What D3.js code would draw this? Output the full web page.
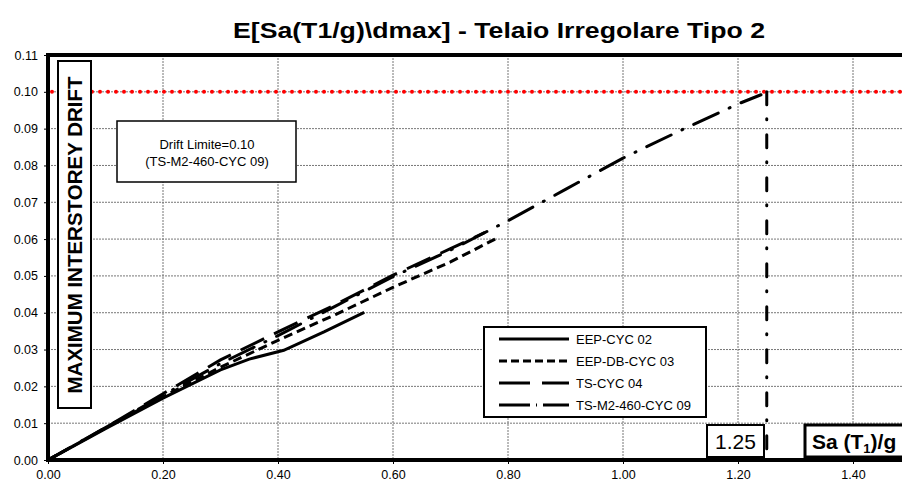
<!DOCTYPE html>
<html><head><meta charset="utf-8">
<script src="https://cdn.jsdelivr.net/npm/d3@7"></script>
<style>
html,body{margin:0;padding:0;background:#fff;}
text{font-family:"Liberation Sans",Arial,sans-serif;}
</style></head>
<body>
<svg id="chart" width="902" height="484"></svg>
<script>
// ---- data ----
const xTicks = [0,0.2,0.4,0.6,0.8,1.0,1.2,1.4];
const yTicks = [0,0.01,0.02,0.03,0.04,0.05,0.06,0.07,0.08,0.09,0.10,0.11];
const seriesNames = ["EEP-CYC 02","EEP-DB-CYC 03","TS-CYC 04","TS-M2-460-CYC 09"];
const saEEP02 = [0,0.1,0.2,0.3,0.35,0.41,0.48,0.55];
const drEEP02 = [0,0.0085,0.0168,0.0245,0.0274,0.0298,0.0348,0.0401];
const saEEPDB03 = [0,0.1,0.2,0.3,0.4,0.5,0.6,0.7,0.78];
const drEEPDB03 = [0,0.0087,0.0172,0.0252,0.0325,0.0395,0.0469,0.0538,0.0602];
const saTS04 = [0,0.1,0.2,0.3,0.4,0.5,0.6,0.7,0.76];
const drTS04 = [0,0.0088,0.0180,0.0272,0.0348,0.0422,0.0502,0.0574,0.0618];
const saTSM2 = [0,0.1,0.2,0.3,0.4,0.5,0.6,0.7,0.8,0.9,1.0,1.1,1.2,1.24];
const drTSM2 = [0,0.0088,0.0176,0.0262,0.0338,0.0418,0.0498,0.0570,0.0650,0.0735,0.0820,0.0895,0.0967,0.0992];
const driftLimit = 0.10;
const saLimit = 1.25;
const titleText = "E[Sa(T1/g)\\dmax] - Telaio Irregolare Tipo 2";

// ---- layout ----
const svg = d3.select("#chart");
const L = 48, R = 910.5, T = 55, B = 460;
const x = d3.scaleLinear().domain([0,1.5]).range([L,R]);
const y = d3.scaleLinear().domain([0,0.11]).range([B,T]);
const styles = [
  {dash:null},
  {dash:"9,5"},
  {dash:"26,11"},
  {dash:"27,12,1,12"}
];
const data = [[saEEP02,drEEP02],[saEEPDB03,drEEPDB03],[saTS04,drTS04],[saTSM2,drTSM2]]
  .map(([a,b],i)=>({name:seriesNames[i], pts:a.map((v,j)=>[v,b[j]]), style:styles[i]}));

svg.append("defs").append("clipPath").attr("id","clip")
  .append("rect").attr("x",L).attr("y",T).attr("width",R-L).attr("height",B-T);

// title
svg.append("text").attr("x",233).attr("y",38)
  .attr("font-size",22).attr("font-weight","bold")
  .attr("textLength",532).attr("lengthAdjust","spacingAndGlyphs").text(titleText);

// grid
const g = svg.append("g");
g.selectAll(".vg").data(xTicks.filter(d=>d>0)).join("line")
  .attr("x1",d=>x(d)).attr("x2",d=>x(d)).attr("y1",T).attr("y2",B)
  .attr("stroke","#777").attr("stroke-width",1).attr("stroke-dasharray","2,1");
g.selectAll(".hg").data(yTicks.filter(d=>d>0 && d<0.11)).join("line")
  .attr("x1",L).attr("x2",R).attr("y1",d=>y(d)).attr("y2",d=>y(d))
  .attr("stroke","#777").attr("stroke-width",1).attr("stroke-dasharray","2,1");

// axes
const xAxis = d3.axisBottom(x).tickValues(xTicks).tickFormat(d3.format(".2f")).tickSize(4).tickPadding(6);
const yAxis = d3.axisLeft(y).tickValues(yTicks).tickFormat(d3.format(".2f")).tickSize(4).tickPadding(6);
const gx = svg.append("g").attr("transform",`translate(0,${B})`).call(xAxis);
const gy = svg.append("g").attr("transform",`translate(${L},0)`).call(yAxis);
[gx,gy].forEach(a=>{
  a.select(".domain").remove();
  a.selectAll("text").attr("font-size",12.5).attr("fill","#000")
    .style("font-family","'Liberation Sans',Arial,sans-serif");
  a.selectAll("line").attr("stroke","#000");
});

// red drift limit line
svg.append("line").attr("x1",x(0)+4).attr("x2",R).attr("y1",y(driftLimit)).attr("y2",y(driftLimit))
  .attr("stroke","#ff0000").attr("stroke-width",4).attr("stroke-linecap","round")
  .attr("stroke-dasharray","0,8");

// plot border
svg.append("line").attr("x1",L).attr("x2",R).attr("y1",T).attr("y2",T).attr("stroke","#000").attr("stroke-width",4);
svg.append("line").attr("x1",L).attr("x2",L).attr("y1",T-2).attr("y2",B+2).attr("stroke","#000").attr("stroke-width",4);
svg.append("line").attr("x1",L-2).attr("x2",R).attr("y1",B).attr("y2",B).attr("stroke","#000").attr("stroke-width",4);

// series
const line = d3.line().x(d=>x(d[0])).y(d=>y(d[1]));
const lg = svg.append("g").attr("clip-path","url(#clip)");
data.forEach((s,i)=>{
  lg.append("path").attr("d",line(s.pts)).attr("fill","none").attr("stroke","#000")
    .attr("stroke-width",3).attr("stroke-dasharray",s.style.dash).attr("stroke-linecap",i===3?"round":"butt");
});
// vertical limit line
lg.append("path").attr("d",line([[saLimit,driftLimit],[saLimit,0]])).attr("fill","none")
  .attr("stroke","#000").attr("stroke-width",3).attr("stroke-dasharray","13,14,1,15").attr("stroke-linecap","round");

// y label box
svg.append("rect").attr("x",58).attr("y",61).attr("width",33).attr("height",347)
  .attr("fill","#fff").attr("stroke","#000").attr("stroke-width",2);
svg.append("text").attr("transform","translate(82,235) rotate(-90)").attr("text-anchor","middle")
  .attr("font-size",20.5).attr("font-weight","bold").text("MAXIMUM INTERSTOREY DRIFT");

// drift box
svg.append("rect").attr("x",117).attr("y",121).attr("width",179).attr("height",61)
  .attr("fill","#fff").attr("stroke","#000").attr("stroke-width",1.5);
svg.append("text").attr("x",207).attr("y",149).attr("text-anchor","middle").attr("font-size",13).text("Drift Limite=0.10");
svg.append("text").attr("x",207).attr("y",166).attr("text-anchor","middle").attr("font-size",13).text("(TS-M2-460-CYC 09)");

// legend
svg.append("rect").attr("x",484).attr("y",327).attr("width",222).attr("height",90)
  .attr("fill","#fff").attr("stroke","#000").attr("stroke-width",2);
const legDash = [null,"8,4","31,12","31,6,1,6"];
data.forEach((s,i)=>{
  const yy = 339 + i*22;
  svg.append("line").attr("x1",499).attr("x2",569).attr("y1",yy).attr("y2",yy)
    .attr("stroke","#000").attr("stroke-width",3).attr("stroke-dasharray",legDash[i])
    .attr("stroke-linecap","butt");
  svg.append("text").attr("x",576).attr("y",yy+4.5).attr("font-size",13).text(s.name);
});

// 1.25 box
svg.append("rect").attr("x",707).attr("y",425).attr("width",57).attr("height",32)
  .attr("fill","#fff").attr("stroke","#000").attr("stroke-width",2);
svg.append("text").attr("x",735.5).attr("y",449).attr("text-anchor","middle").attr("font-size",21).text(d3.format(".2f")(saLimit));
// Sa box
svg.append("rect").attr("x",805).attr("y",425).attr("width",110).attr("height",32)
  .attr("fill","#fff").attr("stroke","#000").attr("stroke-width",3);
const st = svg.append("text").attr("x",812).attr("y",449).attr("font-size",21).attr("font-weight","bold");
st.append("tspan").text("Sa (T");
st.append("tspan").attr("font-size",13).attr("dy",4).text("1");
st.append("tspan").attr("dy",-4).text(")/g");
</script>
</body></html>
